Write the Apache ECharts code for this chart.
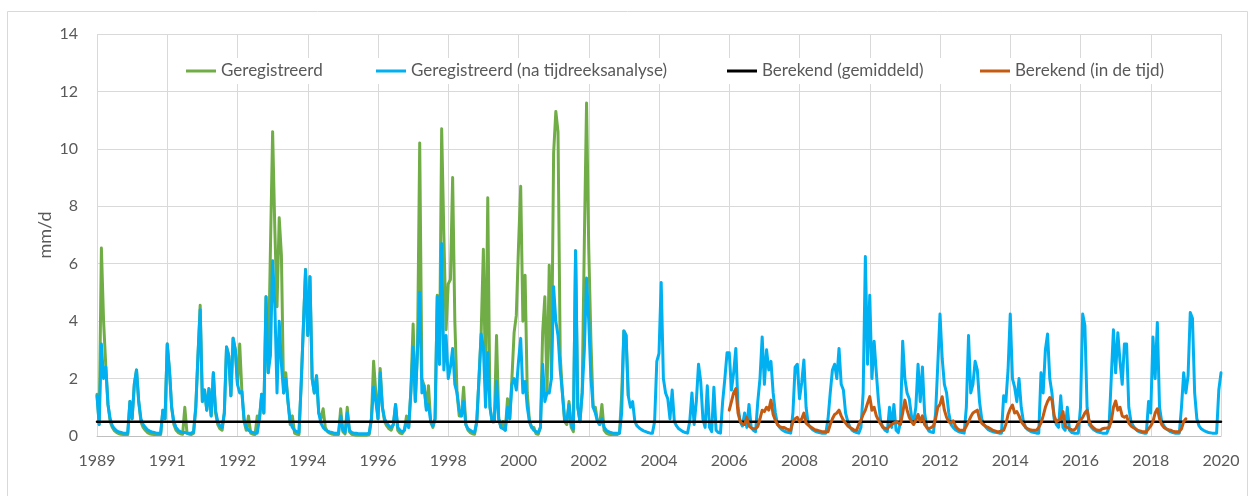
<!DOCTYPE html>
<html>
<head>
<meta charset="utf-8">
<script src="https://cdn.jsdelivr.net/npm/echarts@6.0.0/dist/echarts.min.js"></script>
<style>
  html, body { margin: 0; padding: 0; background: #ffffff; }
  #chart { width: 1250px; height: 496px; }
</style>
</head>
<body>
<div id="chart"></div>
<script>
// Days between labelled ticks on the time axis; samples are taken 32 times per tick interval.
const TICK_DAYS = 712;
const SAMPLES_PER_TICK = 32;
const SAMPLE_DAYS = TICK_DAYS / SAMPLES_PER_TICK;

const xTickLabels = ['1989', '1991', '1992', '1994', '1996', '1998', '2000', '2002', '2004',
  '2006', '2008', '2010', '2012', '2014', '2016', '2018', '2020'];

const seriesNames = ['Geregistreerd', 'Geregistreerd (na tijdreeksanalyse)',
  'Berekend (gemiddeld)', 'Berekend (in de tijd)'];

// Registered discharge (mm/d), 1989 - 2003
const registered = [
  1.45, 0.4, 6.55, 4.0, 2.45, 1.1, 0.5, 0.3, 0.18, 0.12, 0.08, 0.06, 0.05, 0.05, 0.05, 1.2,
  0.6, 1.8, 2.3, 1.2, 0.5, 0.3, 0.2, 0.12, 0.08, 0.06, 0.05, 0.05, 0.05, 0.05, 0.9, 0.6,
  3.2, 2.3, 1.0, 0.4, 0.2, 0.12, 0.08, 0.06, 1.0, 0.1, 0.06, 0.05, 0.1, 1.0, 2.8, 4.55,
  1.2, 1.6, 0.9, 1.65, 0.7, 2.2, 0.8, 0.4, 0.25, 0.2, 0.8, 3.1, 2.8, 1.4, 3.4, 3.0,
  1.8, 3.2, 1.55, 0.5, 0.2, 0.7, 0.1, 0.06, 0.05, 0.7, 0.6, 1.45, 0.8, 4.85, 2.2, 6.5,
  10.6, 7.2, 4.5, 7.6, 6.3, 1.5, 2.2, 1.2, 0.4, 0.7, 0.1, 0.06, 0.05, 1.8, 3.8, 5.8,
  3.5, 5.55, 2.0, 1.5, 2.1, 0.8, 0.6, 0.95, 0.3, 0.15, 0.1, 0.07, 0.05, 0.05, 0.05, 0.95,
  0.15, 0.07, 1.0, 0.15, 0.06, 0.04, 0.03, 0.03, 0.03, 0.03, 0.03, 0.03, 0.05, 0.6, 2.6, 1.5,
  0.6, 2.35, 1.0, 0.5, 0.35, 0.25, 0.2, 0.4, 1.1, 0.2, 0.1, 0.08, 0.2, 0.7, 0.3, 1.6,
  3.9, 1.2, 3.0, 10.2, 2.0, 1.75, 1.0, 1.75, 0.5, 0.3, 0.6, 4.9, 2.5, 10.7, 7.0, 3.7,
  5.3, 5.45, 9.0, 4.0, 1.5, 0.7, 0.7, 1.7, 0.4, 0.2, 0.12, 0.08, 0.06, 0.5, 2.0, 3.6,
  6.5, 1.6, 8.3, 1.0, 0.5, 0.5, 3.5, 0.6, 0.3, 0.5, 0.2, 1.3, 0.6, 2.0, 3.6, 4.2,
  6.6, 8.7, 4.0, 5.6, 1.5, 0.5, 0.3, 0.3, 0.08, 0.06, 0.3, 3.6, 4.85, 1.5, 5.95, 2.0,
  9.85, 11.3, 10.6, 2.8, 1.5, 0.5, 0.4, 1.2, 0.3, 0.15, 6.45, 1.0, 0.5, 1.5, 6.8, 11.6,
  6.5, 3.3, 1.0, 1.0, 0.5, 0.4, 1.1, 0.2, 0.1, 0.06, 0.05, 0.05, 0.05, 0.05, 0.1, 1.45,
  3.66, 3.5, 1.4
];

// Registered discharge after time-series analysis (mm/d), 1989 - 2020
const registeredTsa = [
  1.4, 0.4, 3.2, 2.0, 2.4, 1.1, 0.6, 0.35, 0.25, 0.18, 0.14, 0.12, 0.1, 0.1, 0.1, 1.2,
  0.6, 1.8, 2.3, 1.2, 0.6, 0.4, 0.3, 0.22, 0.17, 0.14, 0.12, 0.1, 0.1, 0.1, 0.9, 0.6,
  3.2, 2.3, 1.0, 0.5, 0.3, 0.2, 0.15, 0.12, 0.12, 0.1, 0.1, 0.1, 0.15, 1.0, 2.8, 4.4,
  1.2, 1.6, 0.9, 1.65, 0.7, 2.2, 0.9, 0.5, 0.35, 0.3, 0.8, 3.1, 2.8, 1.4, 3.4, 3.0,
  1.8, 1.5, 1.55, 0.6, 0.3, 0.2, 0.15, 0.12, 0.1, 0.1, 0.6, 1.45, 0.8, 4.85, 2.2, 2.8,
  6.1, 4.6, 1.5, 4.0, 2.5, 1.5, 2.0, 1.2, 0.5, 0.3, 0.2, 0.15, 0.12, 1.8, 3.8, 5.8,
  3.5, 5.55, 2.0, 1.5, 2.1, 0.8, 0.45, 0.3, 0.22, 0.17, 0.14, 0.12, 0.1, 0.1, 0.1, 0.7,
  0.2, 0.12, 0.8, 0.2, 0.12, 0.1, 0.1, 0.08, 0.08, 0.08, 0.08, 0.08, 0.1, 0.6, 1.7, 1.2,
  0.6, 2.2, 1.0, 0.6, 0.45, 0.35, 0.3, 0.4, 1.1, 0.3, 0.2, 0.15, 0.2, 0.5, 0.3, 1.6,
  3.1, 1.2, 3.0, 5.0, 1.5, 1.75, 0.9, 1.1, 0.5, 0.35, 0.6, 4.85, 2.5, 6.7, 2.3, 3.5,
  2.0, 2.4, 3.05, 1.8, 1.5, 0.9, 0.7, 1.2, 0.4, 0.25, 0.2, 0.15, 0.12, 0.5, 2.0, 3.55,
  3.1, 1.0, 2.9, 1.0, 0.5, 0.5, 1.9, 0.6, 0.3, 0.25, 0.2, 1.0, 0.6, 1.8, 2.0, 1.6,
  2.6, 3.4, 1.5, 1.9, 1.0, 0.5, 0.3, 0.2, 0.15, 0.12, 0.3, 2.5, 1.2, 1.5, 1.5, 2.0,
  5.2, 4.0, 3.5, 2.3, 1.5, 0.6, 0.5, 1.1, 0.4, 0.25, 6.45, 1.0, 0.5, 1.5, 3.0, 5.5,
  4.0, 2.0, 1.0, 0.8, 0.5, 0.4, 0.6, 0.3, 0.2, 0.15, 0.12, 0.1, 0.1, 0.1, 0.1, 0.8,
  3.66, 3.5, 1.4, 1.0, 1.2, 0.5, 0.35, 0.28, 0.22, 0.18, 0.15, 0.12, 0.1, 0.1, 0.5, 2.6,
  2.88, 5.35, 2.0, 1.5, 1.3, 0.6, 1.6, 0.5, 0.35, 0.25, 0.2, 0.15, 0.12, 0.1, 0.5, 1.5,
  0.4, 1.2, 2.5, 1.9, 0.6, 0.3, 1.75, 0.3, 0.15, 1.7, 0.2, 0.12, 0.1, 1.2, 2.0, 2.9,
  2.9, 1.6, 2.2, 3.05, 1.0, 0.5, 0.35, 0.8, 0.3, 1.1, 0.3, 0.2, 0.15, 1.2, 2.0, 3.45,
  1.8, 3.0, 2.3, 2.6, 1.5, 0.8, 0.4, 0.3, 0.22, 0.17, 0.14, 0.12, 0.1, 0.8, 2.4, 2.5,
  1.3, 1.85, 2.65, 1.0, 0.4, 0.3, 0.22, 0.17, 0.14, 0.12, 0.1, 0.1, 0.1, 0.6, 1.5, 2.3,
  2.5, 2.0, 3.05, 1.8, 1.6, 0.8, 0.5, 0.3, 0.2, 0.15, 0.12, 0.1, 0.3, 1.5, 6.25, 2.5,
  4.9, 2.0, 3.3, 2.2, 1.2, 0.5, 0.3, 0.2, 0.15, 1.0, 0.3, 1.1, 0.2, 0.12, 0.5, 3.3,
  2.0, 1.5, 1.3, 0.7, 0.5, 1.0, 2.5, 1.2, 2.4, 0.8, 0.3, 0.17, 0.14, 0.12, 0.8, 2.5,
  4.25, 2.7, 1.8, 1.5, 0.8, 0.4, 0.3, 0.22, 0.17, 0.14, 0.12, 0.1, 1.0, 3.5, 1.5, 1.8,
  2.6, 2.3, 1.2, 0.6, 0.4, 0.3, 0.22, 0.18, 0.15, 0.13, 0.12, 0.1, 0.1, 1.4, 1.2, 2.3,
  4.25, 2.0, 1.7, 1.2, 2.0, 1.0, 0.5, 0.3, 0.22, 0.17, 0.14, 0.12, 0.1, 0.1, 2.2, 1.5,
  3.0, 3.55, 2.0, 1.5, 0.6, 0.4, 0.3, 1.4, 0.3, 0.2, 1.0, 0.2, 0.12, 0.1, 0.1, 0.1,
  1.0, 4.25, 3.85, 1.0, 0.4, 0.3, 0.22, 0.17, 0.14, 0.12, 0.1, 0.1, 0.1, 0.3, 2.0, 3.7,
  2.2, 3.6, 2.6, 1.8, 3.2, 3.2, 1.0, 0.5, 0.35, 0.25, 0.18, 0.14, 0.12, 0.1, 0.1, 1.2,
  0.8, 3.45, 2.0, 3.95, 1.0, 0.5, 0.35, 0.25, 0.2, 0.15, 0.12, 0.1, 0.1, 0.1, 1.0, 2.2,
  1.5, 2.1, 4.3, 4.1, 1.5, 0.6, 0.35, 0.25, 0.2, 0.16, 0.13, 0.11, 0.1, 0.1, 0.1, 1.6,
  2.2
];

// Computed mean discharge (mm/d)
const computedMean = 0.5;

// Computed time-varying discharge (mm/d), 2006 - 2019; first value is sample no. 288
const computedStart = 288;
const computedTime = [
  0.9, 1.2, 1.5, 1.65, 0.8, 0.5, 0.42, 0.4, 0.65, 0.35, 0.28, 0.25, 0.25, 0.33, 0.6, 0.9,
  0.85, 1.0, 0.9, 1.25, 0.75, 0.55, 0.4, 0.32, 0.3, 0.3, 0.25, 0.22, 0.2, 0.5, 0.6, 0.65,
  0.5, 0.6, 0.8, 0.45, 0.38, 0.32, 0.27, 0.22, 0.2, 0.18, 0.16, 0.15, 0.15, 0.15, 0.4, 0.6,
  0.75, 0.8, 0.9, 0.7, 0.55, 0.45, 0.35, 0.3, 0.25, 0.2, 0.2, 0.4, 0.55, 0.75, 0.9, 1.14,
  1.37, 0.9, 1.0, 0.7, 0.55, 0.42, 0.3, 0.27, 0.25, 0.35, 0.4, 0.45, 0.5, 0.45, 0.4, 0.8,
  1.25, 0.9, 0.65, 0.5, 0.4, 0.55, 0.75, 0.5, 0.7, 0.4, 0.3, 0.25, 0.3, 0.35, 0.6, 1.0,
  1.1, 1.37, 0.9, 0.65, 0.5, 0.45, 0.53, 0.35, 0.25, 0.2, 0.2, 0.2, 0.35, 0.5, 0.67, 0.8,
  0.85, 0.9, 0.6, 0.45, 0.38, 0.33, 0.3, 0.25, 0.2, 0.18, 0.15, 0.15, 0.18, 0.2, 0.4, 0.75,
  0.95, 1.08, 0.8, 0.85, 0.7, 0.5, 0.4, 0.3, 0.25, 0.22, 0.2, 0.2, 0.2, 0.3, 0.45, 0.7,
  1.0, 1.2, 1.34, 1.25, 0.7, 0.5, 0.55, 0.6, 0.85, 0.35, 0.3, 0.25, 0.22, 0.2, 0.28, 0.45,
  0.55, 0.65, 0.8, 0.9, 0.5, 0.35, 0.28, 0.22, 0.2, 0.2, 0.25, 0.27, 0.28, 0.3, 0.5, 1.0,
  1.22, 0.9, 1.0, 0.7, 0.65, 0.7, 0.45, 0.35, 0.3, 0.25, 0.2, 0.18, 0.16, 0.15, 0.15, 0.25,
  0.35, 0.5, 0.8, 0.95, 0.6, 0.4, 0.3, 0.25, 0.22, 0.2, 0.17, 0.15, 0.15, 0.15, 0.25, 0.5,
  0.6
];

const seriesColors = ['#70AD47', '#00B0F0', '#000000', '#C55A11'];

const TEXT = '#595959';
const FONT = 'Lato';
const AXIS_MAX = TICK_DAYS * (xTickLabels.length - 1);

function toPoints(values, first) {
  return values.map((v, k) => [(first + k) * SAMPLE_DAYS, v]);
}

const seriesData = [
  toPoints(registered, 0),
  toPoints(registeredTsa, 0),
  [[0, computedMean], [AXIS_MAX, computedMean]],
  toPoints(computedTime, computedStart)
];
const lineWidths = [3, 3, 2.5, 3];

const legendLeft = [186, 376, 727, 980];

const chart = echarts.init(document.getElementById('chart'), null, { renderer: 'canvas' });

chart.setOption({
  animation: false,
  backgroundColor: '#ffffff',
  textStyle: { fontFamily: FONT },
  grid: { left: 97, right: 29, top: 34, bottom: 60 },
  graphic: [
    {
      type: 'rect', silent: true, z: -10,
      shape: { x: 7.5, y: 11.5, width: 1240, height: 520 },
      style: { fill: 'none', stroke: '#d9d9d9', lineWidth: 1 }
    },
    {
      type: 'rect', silent: true, z: 3,
      shape: { x: 174, y: 58, width: 1004, height: 26 },
      style: { fill: '#ffffff' }
    }
  ],
  legend: seriesNames.map((name, k) => ({
    data: [name],
    left: legendLeft[k],
    top: 62,
    padding: 0,
    icon: 'rect',
    itemWidth: 30,
    itemHeight: 3,
    selectedMode: false,
    textStyle: { color: TEXT, fontFamily: FONT, fontSize: 17, lineHeight: 18 }
  })),
  xAxis: {
    type: 'value',
    min: 0,
    max: AXIS_MAX,
    interval: TICK_DAYS,
    axisLine: { show: true, lineStyle: { color: '#bfbfbf', width: 1 } },
    axisTick: { show: false },
    splitLine: { show: true, lineStyle: { color: '#d9d9d9', width: 1 } },
    axisLabel: {
      color: TEXT, fontFamily: FONT, fontSize: 16, margin: 17,
      formatter: (v) => xTickLabels[Math.round(v / TICK_DAYS)]
    }
  },
  yAxis: {
    type: 'value',
    min: 0,
    max: 14,
    interval: 2,
    name: 'mm/d',
    nameLocation: 'middle',
    nameRotate: 90,
    nameGap: 43,
    nameMoveOverlap: false,
    nameTextStyle: { color: TEXT, fontFamily: FONT, fontSize: 18 },
    axisLine: { show: false },
    axisTick: { show: false },
    splitLine: { show: true, lineStyle: { color: '#d9d9d9', width: 1 } },
    axisLabel: { color: TEXT, fontFamily: FONT, fontSize: 16, margin: 19 }
  },
  series: seriesNames.map((name, k) => ({
    name,
    type: 'line',
    data: seriesData[k],
    symbol: 'none',
    showSymbol: false,
    silent: true,
    color: seriesColors[k],
    lineStyle: { color: seriesColors[k], width: lineWidths[k], join: 'round', cap: 'round' },
    z: 2 + k
  }))
});
</script>
</body>
</html>
